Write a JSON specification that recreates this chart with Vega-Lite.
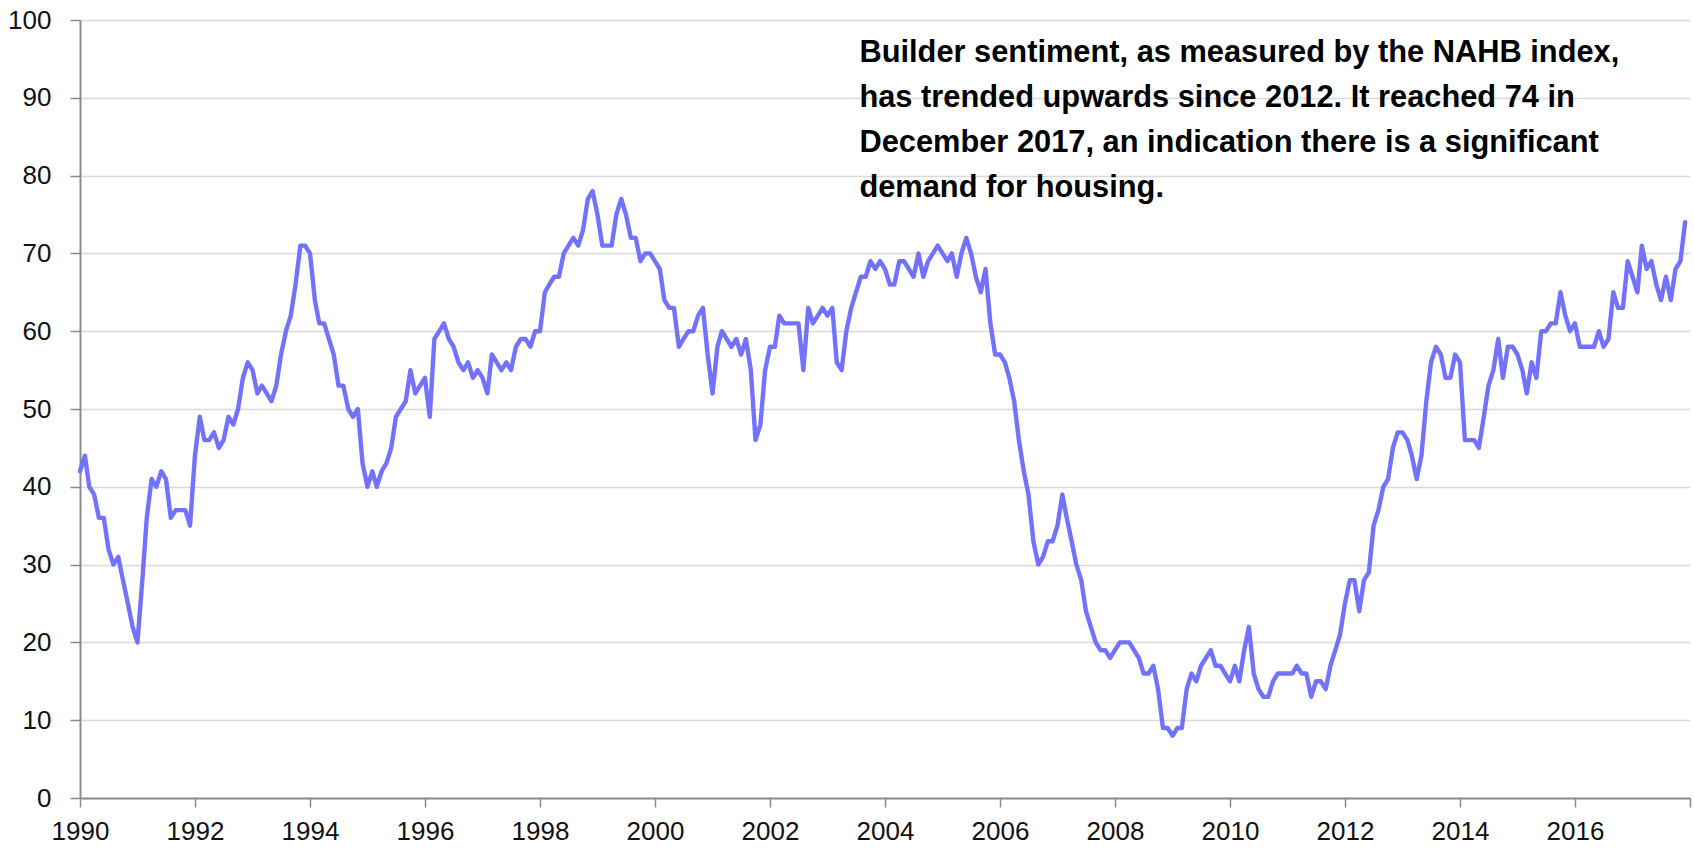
{
  "$schema": "https://vega.github.io/schema/vega-lite/v6.json",
  "width": 1610,
  "height": 778,
  "autosize": {"type": "none"},
  "padding": {"left": 80, "top": 20, "right": 4, "bottom": 54},
  "background": "white",
  "config": {"view": {"stroke": null}},
  "datasets": {
    "nahb": [
      {"d":"1990-01","v":42},{"d":"1990-02","v":44},{"d":"1990-03","v":40},{"d":"1990-04","v":39},{"d":"1990-05","v":36},{"d":"1990-06","v":36},{"d":"1990-07","v":32},{"d":"1990-08","v":30},{"d":"1990-09","v":31},{"d":"1990-10","v":28},{"d":"1990-11","v":25},{"d":"1990-12","v":22},
      {"d":"1991-01","v":20},{"d":"1991-02","v":28},{"d":"1991-03","v":36},{"d":"1991-04","v":41},{"d":"1991-05","v":40},{"d":"1991-06","v":42},{"d":"1991-07","v":41},{"d":"1991-08","v":36},{"d":"1991-09","v":37},{"d":"1991-10","v":37},{"d":"1991-11","v":37},{"d":"1991-12","v":35},
      {"d":"1992-01","v":44},{"d":"1992-02","v":49},{"d":"1992-03","v":46},{"d":"1992-04","v":46},{"d":"1992-05","v":47},{"d":"1992-06","v":45},{"d":"1992-07","v":46},{"d":"1992-08","v":49},{"d":"1992-09","v":48},{"d":"1992-10","v":50},{"d":"1992-11","v":54},{"d":"1992-12","v":56},
      {"d":"1993-01","v":55},{"d":"1993-02","v":52},{"d":"1993-03","v":53},{"d":"1993-04","v":52},{"d":"1993-05","v":51},{"d":"1993-06","v":53},{"d":"1993-07","v":57},{"d":"1993-08","v":60},{"d":"1993-09","v":62},{"d":"1993-10","v":66},{"d":"1993-11","v":71},{"d":"1993-12","v":71},
      {"d":"1994-01","v":70},{"d":"1994-02","v":64},{"d":"1994-03","v":61},{"d":"1994-04","v":61},{"d":"1994-05","v":59},{"d":"1994-06","v":57},{"d":"1994-07","v":53},{"d":"1994-08","v":53},{"d":"1994-09","v":50},{"d":"1994-10","v":49},{"d":"1994-11","v":50},{"d":"1994-12","v":43},
      {"d":"1995-01","v":40},{"d":"1995-02","v":42},{"d":"1995-03","v":40},{"d":"1995-04","v":42},{"d":"1995-05","v":43},{"d":"1995-06","v":45},{"d":"1995-07","v":49},{"d":"1995-08","v":50},{"d":"1995-09","v":51},{"d":"1995-10","v":55},{"d":"1995-11","v":52},{"d":"1995-12","v":53},
      {"d":"1996-01","v":54},{"d":"1996-02","v":49},{"d":"1996-03","v":59},{"d":"1996-04","v":60},{"d":"1996-05","v":61},{"d":"1996-06","v":59},{"d":"1996-07","v":58},{"d":"1996-08","v":56},{"d":"1996-09","v":55},{"d":"1996-10","v":56},{"d":"1996-11","v":54},{"d":"1996-12","v":55},
      {"d":"1997-01","v":54},{"d":"1997-02","v":52},{"d":"1997-03","v":57},{"d":"1997-04","v":56},{"d":"1997-05","v":55},{"d":"1997-06","v":56},{"d":"1997-07","v":55},{"d":"1997-08","v":58},{"d":"1997-09","v":59},{"d":"1997-10","v":59},{"d":"1997-11","v":58},{"d":"1997-12","v":60},
      {"d":"1998-01","v":60},{"d":"1998-02","v":65},{"d":"1998-03","v":66},{"d":"1998-04","v":67},{"d":"1998-05","v":67},{"d":"1998-06","v":70},{"d":"1998-07","v":71},{"d":"1998-08","v":72},{"d":"1998-09","v":71},{"d":"1998-10","v":73},{"d":"1998-11","v":77},{"d":"1998-12","v":78},
      {"d":"1999-01","v":75},{"d":"1999-02","v":71},{"d":"1999-03","v":71},{"d":"1999-04","v":71},{"d":"1999-05","v":75},{"d":"1999-06","v":77},{"d":"1999-07","v":75},{"d":"1999-08","v":72},{"d":"1999-09","v":72},{"d":"1999-10","v":69},{"d":"1999-11","v":70},{"d":"1999-12","v":70},
      {"d":"2000-01","v":69},{"d":"2000-02","v":68},{"d":"2000-03","v":64},{"d":"2000-04","v":63},{"d":"2000-05","v":63},{"d":"2000-06","v":58},{"d":"2000-07","v":59},{"d":"2000-08","v":60},{"d":"2000-09","v":60},{"d":"2000-10","v":62},{"d":"2000-11","v":63},{"d":"2000-12","v":57},
      {"d":"2001-01","v":52},{"d":"2001-02","v":58},{"d":"2001-03","v":60},{"d":"2001-04","v":59},{"d":"2001-05","v":58},{"d":"2001-06","v":59},{"d":"2001-07","v":57},{"d":"2001-08","v":59},{"d":"2001-09","v":55},{"d":"2001-10","v":46},{"d":"2001-11","v":48},{"d":"2001-12","v":55},
      {"d":"2002-01","v":58},{"d":"2002-02","v":58},{"d":"2002-03","v":62},{"d":"2002-04","v":61},{"d":"2002-05","v":61},{"d":"2002-06","v":61},{"d":"2002-07","v":61},{"d":"2002-08","v":55},{"d":"2002-09","v":63},{"d":"2002-10","v":61},{"d":"2002-11","v":62},{"d":"2002-12","v":63},
      {"d":"2003-01","v":62},{"d":"2003-02","v":63},{"d":"2003-03","v":56},{"d":"2003-04","v":55},{"d":"2003-05","v":60},{"d":"2003-06","v":63},{"d":"2003-07","v":65},{"d":"2003-08","v":67},{"d":"2003-09","v":67},{"d":"2003-10","v":69},{"d":"2003-11","v":68},{"d":"2003-12","v":69},
      {"d":"2004-01","v":68},{"d":"2004-02","v":66},{"d":"2004-03","v":66},{"d":"2004-04","v":69},{"d":"2004-05","v":69},{"d":"2004-06","v":68},{"d":"2004-07","v":67},{"d":"2004-08","v":70},{"d":"2004-09","v":67},{"d":"2004-10","v":69},{"d":"2004-11","v":70},{"d":"2004-12","v":71},
      {"d":"2005-01","v":70},{"d":"2005-02","v":69},{"d":"2005-03","v":70},{"d":"2005-04","v":67},{"d":"2005-05","v":70},{"d":"2005-06","v":72},{"d":"2005-07","v":70},{"d":"2005-08","v":67},{"d":"2005-09","v":65},{"d":"2005-10","v":68},{"d":"2005-11","v":61},{"d":"2005-12","v":57},
      {"d":"2006-01","v":57},{"d":"2006-02","v":56},{"d":"2006-03","v":54},{"d":"2006-04","v":51},{"d":"2006-05","v":46},{"d":"2006-06","v":42},{"d":"2006-07","v":39},{"d":"2006-08","v":33},{"d":"2006-09","v":30},{"d":"2006-10","v":31},{"d":"2006-11","v":33},{"d":"2006-12","v":33},
      {"d":"2007-01","v":35},{"d":"2007-02","v":39},{"d":"2007-03","v":36},{"d":"2007-04","v":33},{"d":"2007-05","v":30},{"d":"2007-06","v":28},{"d":"2007-07","v":24},{"d":"2007-08","v":22},{"d":"2007-09","v":20},{"d":"2007-10","v":19},{"d":"2007-11","v":19},{"d":"2007-12","v":18},
      {"d":"2008-01","v":19},{"d":"2008-02","v":20},{"d":"2008-03","v":20},{"d":"2008-04","v":20},{"d":"2008-05","v":19},{"d":"2008-06","v":18},{"d":"2008-07","v":16},{"d":"2008-08","v":16},{"d":"2008-09","v":17},{"d":"2008-10","v":14},{"d":"2008-11","v":9},{"d":"2008-12","v":9},
      {"d":"2009-01","v":8},{"d":"2009-02","v":9},{"d":"2009-03","v":9},{"d":"2009-04","v":14},{"d":"2009-05","v":16},{"d":"2009-06","v":15},{"d":"2009-07","v":17},{"d":"2009-08","v":18},{"d":"2009-09","v":19},{"d":"2009-10","v":17},{"d":"2009-11","v":17},{"d":"2009-12","v":16},
      {"d":"2010-01","v":15},{"d":"2010-02","v":17},{"d":"2010-03","v":15},{"d":"2010-04","v":19},{"d":"2010-05","v":22},{"d":"2010-06","v":16},{"d":"2010-07","v":14},{"d":"2010-08","v":13},{"d":"2010-09","v":13},{"d":"2010-10","v":15},{"d":"2010-11","v":16},{"d":"2010-12","v":16},
      {"d":"2011-01","v":16},{"d":"2011-02","v":16},{"d":"2011-03","v":17},{"d":"2011-04","v":16},{"d":"2011-05","v":16},{"d":"2011-06","v":13},{"d":"2011-07","v":15},{"d":"2011-08","v":15},{"d":"2011-09","v":14},{"d":"2011-10","v":17},{"d":"2011-11","v":19},{"d":"2011-12","v":21},
      {"d":"2012-01","v":25},{"d":"2012-02","v":28},{"d":"2012-03","v":28},{"d":"2012-04","v":24},{"d":"2012-05","v":28},{"d":"2012-06","v":29},{"d":"2012-07","v":35},{"d":"2012-08","v":37},{"d":"2012-09","v":40},{"d":"2012-10","v":41},{"d":"2012-11","v":45},{"d":"2012-12","v":47},
      {"d":"2013-01","v":47},{"d":"2013-02","v":46},{"d":"2013-03","v":44},{"d":"2013-04","v":41},{"d":"2013-05","v":44},{"d":"2013-06","v":51},{"d":"2013-07","v":56},{"d":"2013-08","v":58},{"d":"2013-09","v":57},{"d":"2013-10","v":54},{"d":"2013-11","v":54},{"d":"2013-12","v":57},
      {"d":"2014-01","v":56},{"d":"2014-02","v":46},{"d":"2014-03","v":46},{"d":"2014-04","v":46},{"d":"2014-05","v":45},{"d":"2014-06","v":49},{"d":"2014-07","v":53},{"d":"2014-08","v":55},{"d":"2014-09","v":59},{"d":"2014-10","v":54},{"d":"2014-11","v":58},{"d":"2014-12","v":58},
      {"d":"2015-01","v":57},{"d":"2015-02","v":55},{"d":"2015-03","v":52},{"d":"2015-04","v":56},{"d":"2015-05","v":54},{"d":"2015-06","v":60},{"d":"2015-07","v":60},{"d":"2015-08","v":61},{"d":"2015-09","v":61},{"d":"2015-10","v":65},{"d":"2015-11","v":62},{"d":"2015-12","v":60},
      {"d":"2016-01","v":61},{"d":"2016-02","v":58},{"d":"2016-03","v":58},{"d":"2016-04","v":58},{"d":"2016-05","v":58},{"d":"2016-06","v":60},{"d":"2016-07","v":58},{"d":"2016-08","v":59},{"d":"2016-09","v":65},{"d":"2016-10","v":63},{"d":"2016-11","v":63},{"d":"2016-12","v":69},
      {"d":"2017-01","v":67},{"d":"2017-02","v":65},{"d":"2017-03","v":71},{"d":"2017-04","v":68},{"d":"2017-05","v":69},{"d":"2017-06","v":66},{"d":"2017-07","v":64},{"d":"2017-08","v":67},{"d":"2017-09","v":64},{"d":"2017-10","v":68},{"d":"2017-11","v":69},{"d":"2017-12","v":74}
    ],
    "note": [
      {"t": "Builder sentiment, as measured by the NAHB index,\nhas trended upwards since 2012. It reached 74 in\nDecember 2017, an indication there is a significant\ndemand for housing."}
    ]
  },
  "layer": [
    {
      "data": {"name": "nahb", "format": {"parse": {"d": "utc:'%Y-%m'"}}},
      "mark": {"type": "line", "color": "#7272ff", "strokeWidth": 4.4, "strokeJoin": "round", "strokeCap": "round", "clip": false},
      "encoding": {
        "x": {
          "field": "d", "type": "temporal",
          "scale": {"type": "utc", "domain": [{"year": 1990, "month": 1, "date": 1, "utc": true}, {"year": 2018, "month": 1, "date": 1, "utc": true}]},
          "axis": {
            "title": null,
            "values": [
              {"year": 1990, "month": 1, "date": 1, "utc": true}, {"year": 1992, "month": 1, "date": 1, "utc": true},
              {"year": 1994, "month": 1, "date": 1, "utc": true}, {"year": 1996, "month": 1, "date": 1, "utc": true},
              {"year": 1998, "month": 1, "date": 1, "utc": true}, {"year": 2000, "month": 1, "date": 1, "utc": true},
              {"year": 2002, "month": 1, "date": 1, "utc": true}, {"year": 2004, "month": 1, "date": 1, "utc": true},
              {"year": 2006, "month": 1, "date": 1, "utc": true}, {"year": 2008, "month": 1, "date": 1, "utc": true},
              {"year": 2010, "month": 1, "date": 1, "utc": true}, {"year": 2012, "month": 1, "date": 1, "utc": true},
              {"year": 2014, "month": 1, "date": 1, "utc": true}, {"year": 2016, "month": 1, "date": 1, "utc": true},
              {"year": 2018, "month": 1, "date": 1, "utc": true}
            ],
            "labelExpr": "utcyear(datum.value) == 2018 ? '' : utcFormat(datum.value, '%Y')",
            "labelFont": "Liberation Sans",
            "labelFontSize": 26,
            "labelColor": "#111111",
            "labelPadding": 11,
            "labelFlush": false,
            "labelOverlap": false,
            "tickSize": 9,
            "tickColor": "#8c8c8c",
            "tickWidth": 1.5,
            "domainColor": "#8c8c8c",
            "domainWidth": 2,
            "grid": false
          }
        },
        "y": {
          "field": "v", "type": "quantitative",
          "scale": {"domain": [0, 100], "nice": false, "zero": true},
          "axis": {
            "title": null,
            "values": [0, 10, 20, 30, 40, 50, 60, 70, 80, 90, 100],
            "labelFont": "Liberation Sans",
            "labelFontSize": 26,
            "labelColor": "#111111",
            "labelPadding": 19,
            "labelFlush": false,
            "tickSize": 10,
            "tickColor": "#8c8c8c",
            "tickWidth": 1.5,
            "domainColor": "#8c8c8c",
            "domainWidth": 2,
            "grid": true,
            "gridColor": "#d9d9d9",
            "gridWidth": 1.5
          }
        }
      }
    },
    {
      "data": {"name": "note"},
      "mark": {"type": "text", "align": "left", "baseline": "alphabetic", "lineBreak": "\n", "lineHeight": 45, "font": "Liberation Sans", "fontWeight": "bold", "fontSize": 30.8, "color": "#000000"},
      "encoding": {
        "x": {"datum": {"year": 2003, "month": 7, "date": 23, "utc": true}, "type": "temporal", "scale": {"type": "utc"}},
        "y": {"datum": 94.6, "type": "quantitative"},
        "text": {"field": "t"}
      }
    }
  ]
}
